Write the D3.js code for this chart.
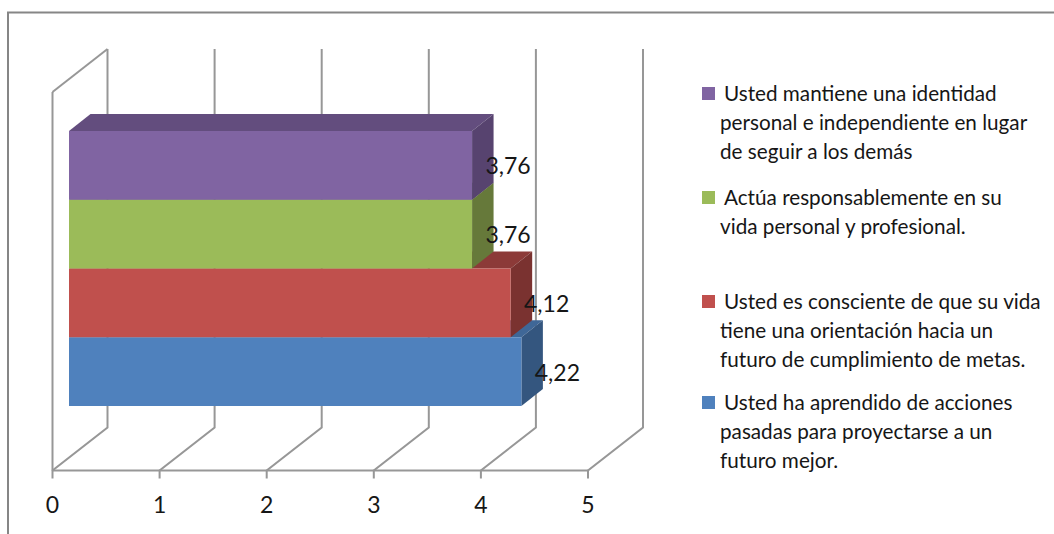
<!DOCTYPE html>
<html><head><meta charset="utf-8"><script src="https://d3js.org/d3.v7.min.js"></script>
<style>html,body{margin:0;padding:0;background:#fff}svg{display:block}text{font-family:Lato,"Noto Sans",sans-serif;fill:#161616}</style></head><body>
<svg id="c" width="1054" height="534"></svg>
<script>
const categories=["Usted ha aprendido de acciones pasadas para proyectarse a un futuro mejor.","Usted es consciente de que su vida tiene una orientación hacia un futuro de cumplimiento de metas.","Actúa responsablemente en su vida personal y profesional.","Usted mantiene una identidad personal e independiente en lugar de seguir a los demás"];
const values=[4.22,4.12,3.76,3.76];
const labels=["4,22","4,12","3,76","3,76"];
const fronts=["#4f81bd","#c0504d","#9bbb59","#8064a2"];
const tops=["#3f6797","#8c3a38","#6f8740","#634d7e"];
const sides=["#34567f","#7a3230","#66793a","#57436f"];
const ticks=[0,1,2,3,4,5];
const legendLines=[["Usted ha aprendido de acciones","pasadas para proyectarse a un","futuro mejor."],["Usted es consciente de que su vida","tiene una orientación hacia un","futuro de cumplimiento de metas."],["Actúa responsablemente en su","vida personal y profesional."],["Usted mantiene una identidad","personal e independiente en lugar","de seguir a los demás"]];
const legendTop=[402,301,197,93];

const svg=d3.select("#c");
const grid="#979797";
const x=d3.scaleLinear().domain([0,5]).range([52.5,588]);
const barX=d3.scaleLinear().domain([0,5]).range([69,605]);
const y=d3.scaleBand().domain(d3.range(values.length)).range([406,131]).padding(0);
const wall={dx:55,dy:-43,top:92,base:470.5};
const bar={dx:21.5,dy:-17};

svg.append("path").attr("d","M8,534V12.5H1054").attr("fill","none").attr("stroke","#868686").attr("stroke-width",2);

const g=svg.append("g").attr("fill","none").attr("stroke",grid).attr("stroke-width",2);
g.append("path").attr("d",`M${x(0)},${wall.top}V${wall.base}`);
g.append("path").attr("d",`M${x(0)},${wall.top}L${x(0)+wall.dx},${wall.top+wall.dy}`);
g.append("path").attr("d",`M${x(0)},${wall.base}H${x(5)}`);
ticks.forEach(t=>{
  g.append("path").attr("d",`M${x(t)},${wall.base+8}V${wall.base}L${x(t)+wall.dx},${wall.base+wall.dy}V${wall.top+wall.dy}`);
});
svg.selectAll("text.tick").data(ticks).join("text").attr("class","tick").attr("x",d=>x(d)).attr("y",513).attr("text-anchor","middle").attr("font-size",23).text(d=>d);

const sel=svg.selectAll("g.bar").data(values).join("g").attr("class","bar");
const L=barX(0);
sel.each(function(v,i){
  const s=d3.select(this), X=barX(v), T=y(i), B=T+y.bandwidth();
  const pts=a=>a.map(p=>p.join(",")).join(" ");
  s.append("polygon").attr("points",pts([[L,T],[L+bar.dx,T+bar.dy],[X+bar.dx,T+bar.dy],[X,T]])).attr("fill",tops[i]);
  s.append("polygon").attr("points",pts([[X,T],[X+bar.dx,T+bar.dy],[X+bar.dx,B+bar.dy],[X,B]])).attr("fill",sides[i]);
  s.append("rect").attr("x",L).attr("y",T).attr("width",X-L).attr("height",B-T).attr("fill",fronts[i]);
});
svg.selectAll("text.lab").data(values).join("text").attr("class","lab")
  .attr("x",v=>barX(v)+36).attr("y",(v,i)=>y(i)+y.bandwidth()/2+9).attr("text-anchor","middle").attr("font-size",23).text((v,i)=>labels[i]);

legendLines.forEach((lines,i)=>{
  const top=legendTop[i];
  svg.append("rect").attr("x",702).attr("y",top-6).attr("width",13).attr("height",13).attr("fill",fronts[i]);
  lines.forEach((t,j)=>{
    svg.append("text").attr("x",j?720:724).attr("y",top+8+j*29).attr("font-size",20.7).text(t);
  });
});
</script></body></html>
